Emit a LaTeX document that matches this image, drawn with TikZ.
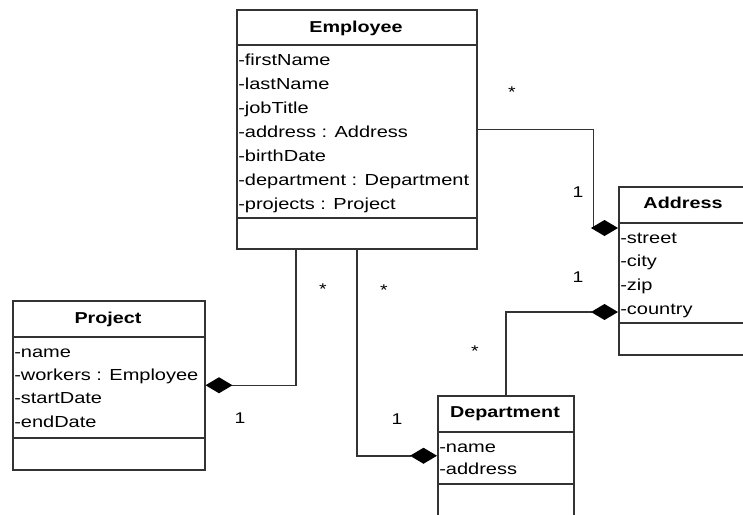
\documentclass[tikz,border=0pt]{standalone}
\usepackage{fontspec}
\setmainfont{Liberation Sans}[FakeStretch=1.25]
\usetikzlibrary{arrows.meta}

\begin{document}
\begin{tikzpicture}[x=1pt,y=-1pt,line width=1.5pt,
	classbox/.style={draw=black!80,anchor=north west,inner sep=0pt},
	title/.style={anchor=base,inner sep=0pt,font=\fontsize{15.8}{18}\selectfont\bfseries},
	attr/.style={anchor=base west,inner sep=0pt,font=\fontsize{16}{19}\selectfont},
	mult/.style={anchor=base,inner sep=0pt,font=\fontsize{15.5}{18}\selectfont},
	comp/.style={draw=black!80,-{Diamond[length=27pt,width=16pt,color=black]}}]
	\useasboundingbox (0,0) rectangle (743,514);
	\clip (0,0) rectangle (743,514);

	%classes
	\node[classbox,minimum width=240,minimum height=239] (emp) at (236,9) {}; %Employee
	\node[classbox,minimum width=192,minimum height=169] (proj) at (12,300) {}; %Project
	\node[classbox,minimum width=130,minimum height=168] (addr) at (618,186) {}; %Address
	\node[classbox,minimum width=136,minimum height=120] (dep) at (437,395) {}; %Department

	%compartment lines
	\draw[black!80] (236,45) -- (476,45) (236,218) -- (476,218); %Employee
	\draw[black!80] (12,337) -- (204,337) (12,438) -- (204,438); %Project
	\draw[black!80] (618,223) -- (748,223) (618,323) -- (748,323); %Address
	\draw[black!80] (437,432) -- (573,432) (437,484) -- (573,484); %Department

	%titles
	\node[title] (empT) at (356,32) {Employee};
	\node[title] (projT) at (108,323) {Project};
	\node[title] (addrT) at (683,208) {Address};
	\node[title] (depT) at (505,417) {Department};

	%attributes
	\foreach \a [count=\i from 0] in {-firstName,-lastName,-jobTitle,-address : Address,-birthDate,-department : Department,-projects : Project}
	  \node[attr] (empA\i) at (237.5,65+24*\i) {\a};
	\foreach \a [count=\i from 0] in {-name,-workers : Employee,-startDate,-endDate}
	  \node[attr] (projA\i) at (13.5,357+23.4*\i) {\a};
	\foreach \a [count=\i from 0] in {-street,-city,-zip,-country}
	  \node[attr] (addrA\i) at (619.5,243+23.7*\i) {\a};
	\foreach \a [count=\i from 0] in {-name,-address}
	  \node[attr] (depA\i) at (438.5,452+22*\i) {\a};

	%composition ends
	\coordinate (addrTop) at (618,228);
	\coordinate (addrBot) at (618,312);

	%compositions
	\draw[comp] (emp.east) -- ++(116,0) |- (addrTop); %Employee - Address
	\draw[comp] (dep.north) |- (addrBot); %Department - Address
	\draw[comp] ([xshift=-61pt]emp.south) |- (proj.east); %Employee - Project
	\draw[comp] (emp.south) |- (dep.west); %Employee - Department

	%multiplicities
	\node[mult] (m1) at (512,97) {*};
	\node[mult] (m2) at (578,197.5) {1};
	\node[mult] (m3) at (578,282.5) {1};
	\node[mult] (m4) at (475,356) {*};
	\node[mult] (m5) at (323,294) {*};
	\node[mult] (m6) at (384,295) {*};
	\node[mult] (m7) at (240,423.5) {1};
	\node[mult] (m8) at (397,424.5) {1};
\end{tikzpicture}
\end{document}
